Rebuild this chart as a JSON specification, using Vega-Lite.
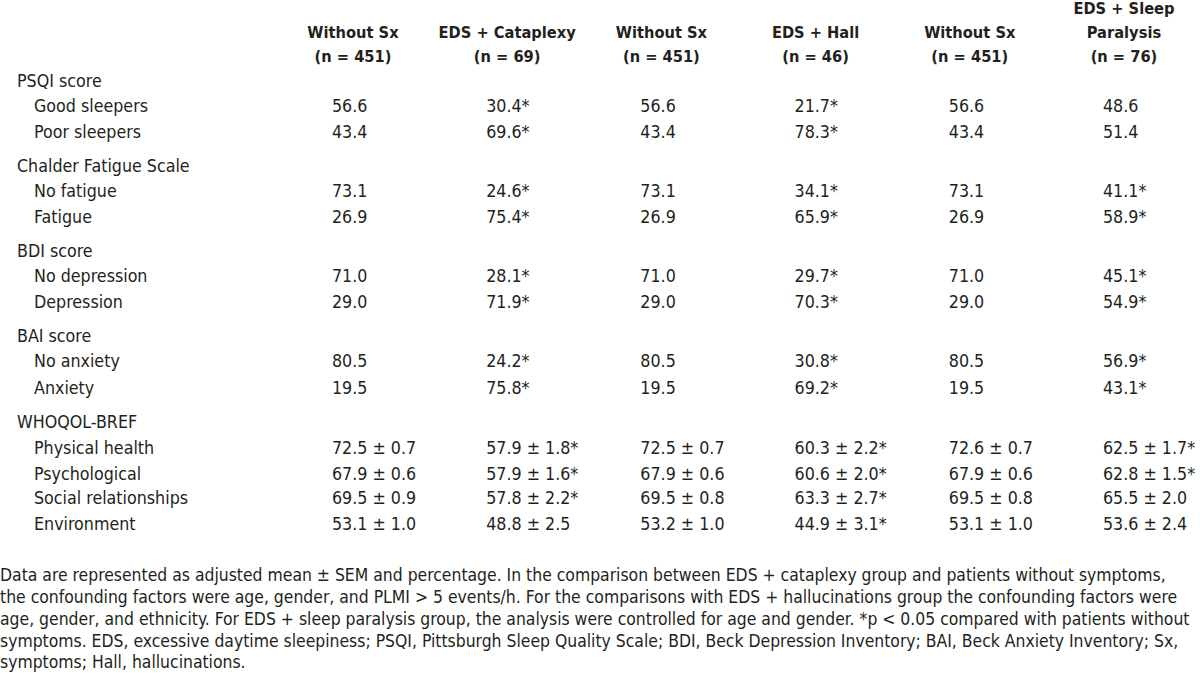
{
  "$schema": "https://vega.github.io/schema/vega-lite/v6.json",
  "width": 1200,
  "height": 680,
  "padding": 0,
  "autosize": {"type": "none"},
  "background": "white",
  "config": {"view": {"stroke": null}, "text": {"font": "DejaVu Sans Condensed, sans-serif", "fontSize": 17.7, "color": "#231f20", "baseline": "middle"}},
  "datasets": {
    "headers": [
      {"col": 6, "line": -8.6, "text": "EDS + Sleep"},
      {"col": 1, "line": -5.76, "text": "Without Sx"},
      {"col": 2, "line": -5.76, "text": "EDS + Cataplexy"},
      {"col": 3, "line": -5.76, "text": "Without Sx"},
      {"col": 4, "line": -5.76, "text": "EDS + Hall"},
      {"col": 5, "line": -5.76, "text": "Without Sx"},
      {"col": 6, "line": -5.76, "text": "Paralysis"},
      {"col": 1, "line": -2.94, "text": "(n = 451)"},
      {"col": 2, "line": -2.94, "text": "(n = 69)"},
      {"col": 3, "line": -2.94, "text": "(n = 451)"},
      {"col": 4, "line": -2.94, "text": "(n = 46)"},
      {"col": 5, "line": -2.94, "text": "(n = 451)"},
      {"col": 6, "line": -2.94, "text": "(n = 76)"}
    ],
    "labels": [
      {"indent": 0, "line": 0, "text": "PSQI score"},
      {"indent": 1, "line": 3, "text": "Good sleepers"},
      {"indent": 1, "line": 6, "text": "Poor sleepers"},
      {"indent": 0, "line": 10, "text": "Chalder Fatigue Scale"},
      {"indent": 1, "line": 13, "text": "No fatigue"},
      {"indent": 1, "line": 16, "text": "Fatigue"},
      {"indent": 0, "line": 20, "text": "BDI score"},
      {"indent": 1, "line": 23, "text": "No depression"},
      {"indent": 1, "line": 26, "text": "Depression"},
      {"indent": 0, "line": 30, "text": "BAI score"},
      {"indent": 1, "line": 33, "text": "No anxiety"},
      {"indent": 1, "line": 36.1, "text": "Anxiety"},
      {"indent": 0, "line": 40.1, "text": "WHOQOL-BREF"},
      {"indent": 1, "line": 43.2, "text": "Physical health"},
      {"indent": 1, "line": 46.2, "text": "Psychological"},
      {"indent": 1, "line": 49.1, "text": "Social relationships"},
      {"indent": 1, "line": 52.1, "text": "Environment"}
    ],
    "notes": [
      {"indent": -1, "line": 58.1, "text": "Data are represented as adjusted mean ± SEM and percentage. In the comparison between EDS + cataplexy group and patients without symptoms,"},
      {"indent": -1, "line": 60.7, "text": "the confounding factors were age, gender, and PLMI > 5 events/h. For the comparisons with EDS + hallucinations group the confounding factors were"},
      {"indent": -1, "line": 63.3, "text": "age, gender, and ethnicity. For EDS + sleep paralysis group, the analysis were controlled for age and gender. *p < 0.05 compared with patients without"},
      {"indent": -1, "line": 65.9, "text": "symptoms. EDS, excessive daytime sleepiness; PSQI, Pittsburgh Sleep Quality Scale; BDI, Beck Depression Inventory; BAI, Beck Anxiety Inventory; Sx,"},
      {"indent": -1, "line": 68.4, "text": "symptoms; Hall, hallucinations."}
    ],
    "cells": [
      {"col": 1, "line": 3, "text": "56.6"}, {"col": 2, "line": 3, "text": "30.4*"}, {"col": 3, "line": 3, "text": "56.6"}, {"col": 4, "line": 3, "text": "21.7*"}, {"col": 5, "line": 3, "text": "56.6"}, {"col": 6, "line": 3, "text": "48.6"},
      {"col": 1, "line": 6, "text": "43.4"}, {"col": 2, "line": 6, "text": "69.6*"}, {"col": 3, "line": 6, "text": "43.4"}, {"col": 4, "line": 6, "text": "78.3*"}, {"col": 5, "line": 6, "text": "43.4"}, {"col": 6, "line": 6, "text": "51.4"},
      {"col": 1, "line": 13, "text": "73.1"}, {"col": 2, "line": 13, "text": "24.6*"}, {"col": 3, "line": 13, "text": "73.1"}, {"col": 4, "line": 13, "text": "34.1*"}, {"col": 5, "line": 13, "text": "73.1"}, {"col": 6, "line": 13, "text": "41.1*"},
      {"col": 1, "line": 16, "text": "26.9"}, {"col": 2, "line": 16, "text": "75.4*"}, {"col": 3, "line": 16, "text": "26.9"}, {"col": 4, "line": 16, "text": "65.9*"}, {"col": 5, "line": 16, "text": "26.9"}, {"col": 6, "line": 16, "text": "58.9*"},
      {"col": 1, "line": 23, "text": "71.0"}, {"col": 2, "line": 23, "text": "28.1*"}, {"col": 3, "line": 23, "text": "71.0"}, {"col": 4, "line": 23, "text": "29.7*"}, {"col": 5, "line": 23, "text": "71.0"}, {"col": 6, "line": 23, "text": "45.1*"},
      {"col": 1, "line": 26, "text": "29.0"}, {"col": 2, "line": 26, "text": "71.9*"}, {"col": 3, "line": 26, "text": "29.0"}, {"col": 4, "line": 26, "text": "70.3*"}, {"col": 5, "line": 26, "text": "29.0"}, {"col": 6, "line": 26, "text": "54.9*"},
      {"col": 1, "line": 33, "text": "80.5"}, {"col": 2, "line": 33, "text": "24.2*"}, {"col": 3, "line": 33, "text": "80.5"}, {"col": 4, "line": 33, "text": "30.8*"}, {"col": 5, "line": 33, "text": "80.5"}, {"col": 6, "line": 33, "text": "56.9*"},
      {"col": 1, "line": 36.1, "text": "19.5"}, {"col": 2, "line": 36.1, "text": "75.8*"}, {"col": 3, "line": 36.1, "text": "19.5"}, {"col": 4, "line": 36.1, "text": "69.2*"}, {"col": 5, "line": 36.1, "text": "19.5"}, {"col": 6, "line": 36.1, "text": "43.1*"},
      {"col": 1, "line": 43.2, "text": "72.5 ± 0.7"}, {"col": 2, "line": 43.2, "text": "57.9 ± 1.8*"}, {"col": 3, "line": 43.2, "text": "72.5 ± 0.7"}, {"col": 4, "line": 43.2, "text": "60.3 ± 2.2*"}, {"col": 5, "line": 43.2, "text": "72.6 ± 0.7"}, {"col": 6, "line": 43.2, "text": "62.5 ± 1.7*"},
      {"col": 1, "line": 46.2, "text": "67.9 ± 0.6"}, {"col": 2, "line": 46.2, "text": "57.9 ± 1.6*"}, {"col": 3, "line": 46.2, "text": "67.9 ± 0.6"}, {"col": 4, "line": 46.2, "text": "60.6 ± 2.0*"}, {"col": 5, "line": 46.2, "text": "67.9 ± 0.6"}, {"col": 6, "line": 46.2, "text": "62.8 ± 1.5*"},
      {"col": 1, "line": 49.1, "text": "69.5 ± 0.9"}, {"col": 2, "line": 49.1, "text": "57.8 ± 2.2*"}, {"col": 3, "line": 49.1, "text": "69.5 ± 0.8"}, {"col": 4, "line": 49.1, "text": "63.3 ± 2.7*"}, {"col": 5, "line": 49.1, "text": "69.5 ± 0.8"}, {"col": 6, "line": 49.1, "text": "65.5 ± 2.0"},
      {"col": 1, "line": 52.1, "text": "53.1 ± 1.0"}, {"col": 2, "line": 52.1, "text": "48.8 ± 2.5"}, {"col": 3, "line": 52.1, "text": "53.2 ± 1.0"}, {"col": 4, "line": 52.1, "text": "44.9 ± 3.1*"}, {"col": 5, "line": 52.1, "text": "53.1 ± 1.0"}, {"col": 6, "line": 52.1, "text": "53.6 ± 2.4"}
    ]
  },
  "layer": [
    {
      "data": {"name": "headers"},
      "mark": {"type": "text", "align": "center", "fontWeight": "bold", "fontSize": 16.3},
      "encoding": {
        "x": {"field": "col", "type": "quantitative", "scale": {"domain": [-1.289, 6.493], "nice": false, "zero": false}, "axis": null},
        "y": {"field": "line", "type": "quantitative", "scale": {"domain": [-9.647, 70.353], "reverse": true, "nice": false, "zero": false}, "axis": null},
        "text": {"field": "text"}
      }
    },
    {
      "data": {"name": "cells"},
      "mark": {"type": "text", "align": "left", "dx": -21},
      "encoding": {
        "x": {"field": "col", "type": "quantitative", "scale": {"domain": [-1.289, 6.493], "nice": false, "zero": false}, "axis": null},
        "y": {"field": "line", "type": "quantitative", "scale": {"domain": [-9.647, 70.353], "reverse": true, "nice": false, "zero": false}, "axis": null},
        "text": {"field": "text"}
      }
    },
    {
      "data": {"name": "labels"},
      "mark": {"type": "text", "align": "left"},
      "encoding": {
        "x": {"field": "indent", "type": "quantitative", "scale": {"domain": [-1, 69.588], "nice": false, "zero": false}, "axis": null},
        "y": {"field": "line", "type": "quantitative", "scale": {"domain": [-9.647, 70.353], "reverse": true, "nice": false, "zero": false}, "axis": null},
        "text": {"field": "text"}
      }
    },
    {
      "data": {"name": "notes"},
      "mark": {"type": "text", "align": "left", "fontSize": 17.4},
      "encoding": {
        "x": {"field": "indent", "type": "quantitative", "scale": {"domain": [-1, 69.588], "nice": false, "zero": false}, "axis": null},
        "y": {"field": "line", "type": "quantitative", "scale": {"domain": [-9.647, 70.353], "reverse": true, "nice": false, "zero": false}, "axis": null},
        "text": {"field": "text"}
      }
    }
  ],
  "resolve": {"scale": {"x": "independent"}}
}
